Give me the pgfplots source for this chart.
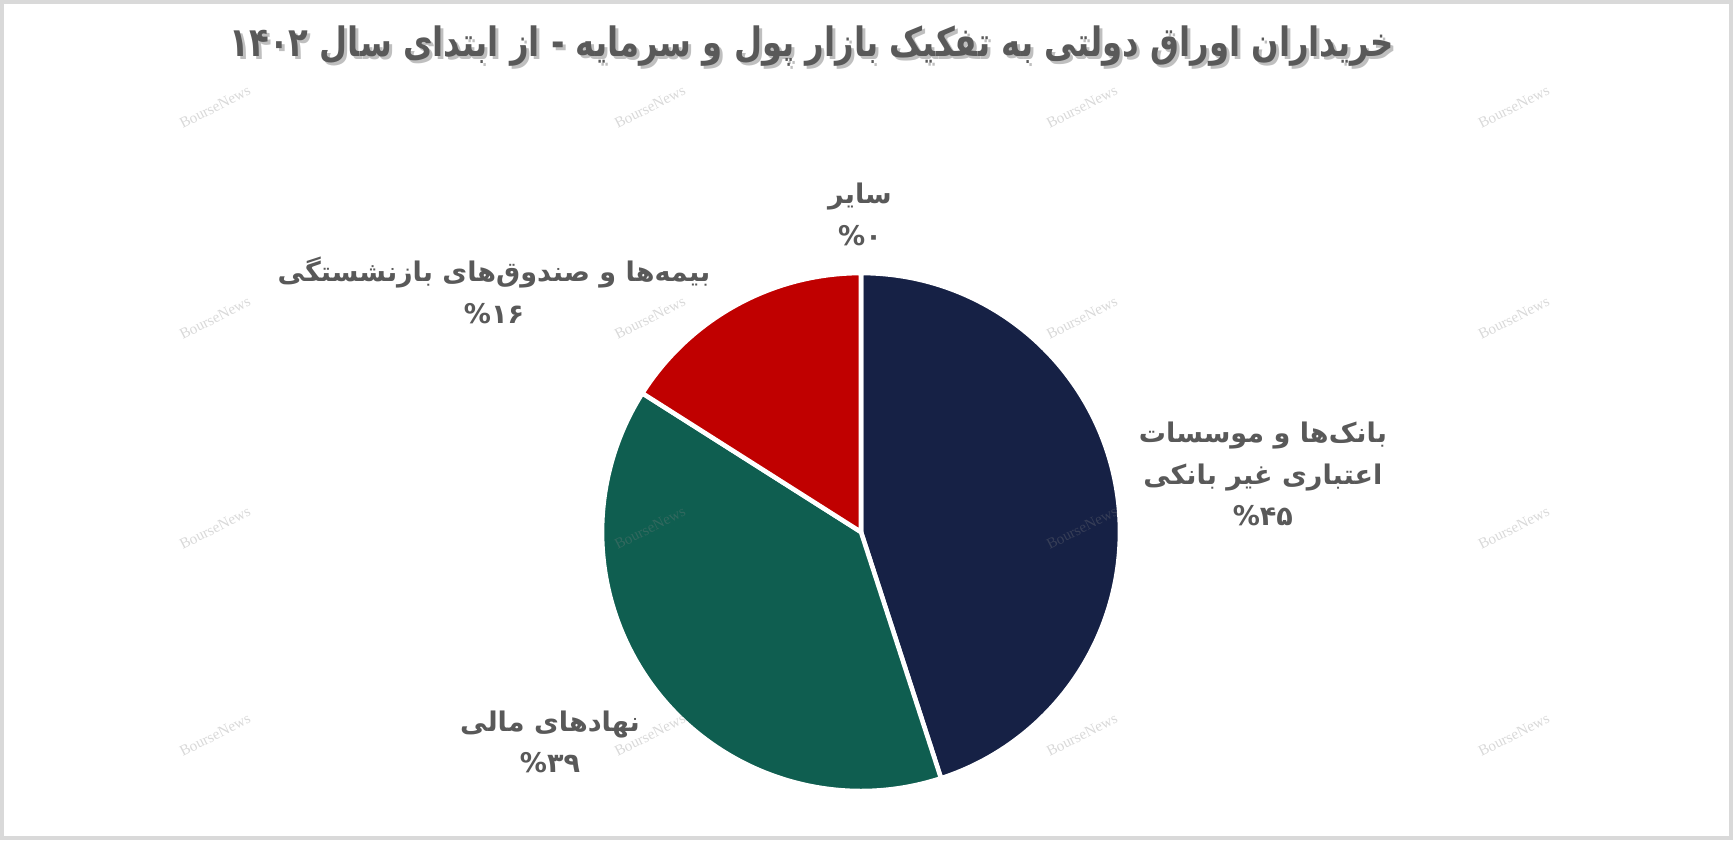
\documentclass[border=0pt]{standalone}
\usepackage{pgfplots}
\pgfplotsset{compat=1.18}
\usepackage{fontspec}
\setmainfont{Liberation Sans}
\newfontfamily\fa[Script=Arabic]{DejaVu Sans}
\newfontfamily\wm{Liberation Serif}
\TeXXeTstate=1

\definecolor{navy}{HTML}{162145}
\definecolor{pgreen}{HTML}{0F5E50}
\definecolor{pred}{HTML}{C00000}
\definecolor{txt}{HTML}{595959}
\definecolor{framec}{HTML}{D9D9D9}

\tikzset{
  lbl/.style={font=\fa\bfseries\fontsize{7.7}{11.9}\selectfont, text=txt, align=center},
  ttl/.style={font=\fa\bfseries\fontsize{11.5}{14}\selectfont, xscale=0.8},
  wmk/.style={font=\wm\fontsize{4.3}{5}\selectfont, text=gray, opacity=0.3, rotate=27}
}

% shares in percent
\pgfplotstableread{
share
45
39
16
0
}\piedata

\begin{document}
\begin{tikzpicture}
\pgfplotstablegetelem{0}{share}\of\piedata \let\sA\pgfplotsretval
\pgfplotstablegetelem{1}{share}\of\piedata \let\sB\pgfplotsretval
\pgfplotstablegetelem{2}{share}\of\piedata \let\sC\pgfplotsretval
\pgfmathsetmacro\aA{90}
\pgfmathsetmacro\aB{90-3.6*\sA}
\pgfmathsetmacro\aC{\aB-3.6*\sB}
\pgfmathsetmacro\aD{\aC-3.6*\sC}
\begin{axis}[
    hide axis, scale only axis,
    width=173.3mm, height=84mm,
    xmin=0, xmax=1733, ymin=0, ymax=840,
    clip=false
]
% outer frame
\draw[framec, line width=1.2pt] (axis cs:2,2) rectangle (axis cs:1731,838);

% slices
\fill[navy, draw=white, line width=1.3pt] (axis cs:861,308) -- ++(\aA:25.9mm) arc[start angle=\aA, end angle=\aB, radius=25.9mm] -- cycle;
\fill[pgreen, draw=white, line width=1.3pt] (axis cs:861,308) -- ++(\aB:25.9mm) arc[start angle=\aB, end angle=\aC, radius=25.9mm] -- cycle;
\fill[pred, draw=white, line width=1.3pt] (axis cs:861,308) -- ++(\aC:25.9mm) arc[start angle=\aC, end angle=\aD, radius=25.9mm] -- cycle;

% title
\node[ttl, text=black!25] at (axis cs:815,791) {\beginR خریداران اوراق دولتی به تفکیک بازار پول و سرمایه - از ابتدای سال ۱۴۰۲\endR};
\node[ttl, text=txt] at (axis cs:812,794) {\beginR خریداران اوراق دولتی به تفکیک بازار پول و سرمایه - از ابتدای سال ۱۴۰۲\endR};

% labels
\node[lbl] at (axis cs:860,626) {\beginR سایر\endR\\ \beginL\%۰\endL};
\node[lbl] at (axis cs:494,550) {\beginR بیمه‌ها و صندوق‌های بازنشستگی\endR\\ \beginL\%۱۶\endL};
\node[lbl] at (axis cs:1263,366) {\beginR بانک‌ها و موسسات\endR\\ \beginR اعتباری غیر بانکی\endR\\ \beginL\%۴۵\endL};
\node[lbl] at (axis cs:550,98) {\beginR نهادهای مالی\endR\\ \beginL\%۳۹\endL};

% watermarks
\node[wmk] at (axis cs:215,733) {BourseNews};
\node[wmk] at (axis cs:650,733) {BourseNews};
\node[wmk] at (axis cs:1082,733) {BourseNews};
\node[wmk] at (axis cs:1514,733) {BourseNews};
\node[wmk] at (axis cs:215,522) {BourseNews};
\node[wmk] at (axis cs:650,522) {BourseNews};
\node[wmk] at (axis cs:1082,522) {BourseNews};
\node[wmk] at (axis cs:1514,522) {BourseNews};
\node[wmk] at (axis cs:215,312) {BourseNews};
\node[wmk] at (axis cs:650,312) {BourseNews};
\node[wmk] at (axis cs:1082,312) {BourseNews};
\node[wmk] at (axis cs:1514,312) {BourseNews};
\node[wmk] at (axis cs:215,105) {BourseNews};
\node[wmk] at (axis cs:650,105) {BourseNews};
\node[wmk] at (axis cs:1082,105) {BourseNews};
\node[wmk] at (axis cs:1514,105) {BourseNews};
\end{axis}
\end{tikzpicture}
\end{document}
